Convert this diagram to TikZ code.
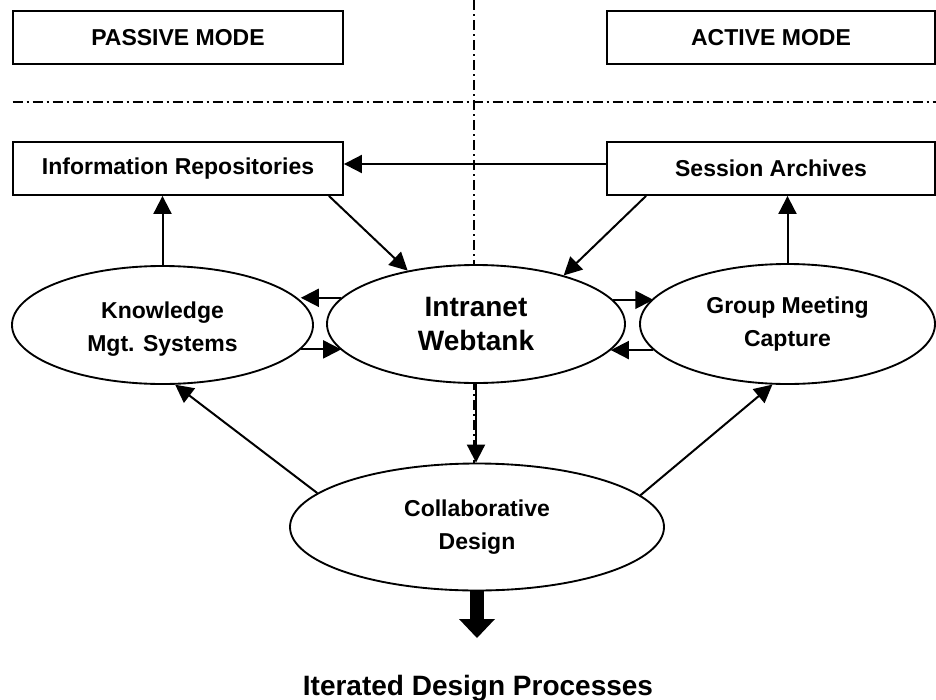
\documentclass[tikz,border=0pt]{standalone}
\usepackage{fontspec}
\setmainfont{Liberation Sans}
\usetikzlibrary{shapes.geometric,arrows.meta,calc}
\begin{document}
\begin{tikzpicture}[x=0.75pt,y=-0.75pt,
  txt/.style={font=\bfseries\fontsize{17.25}{24.75}\selectfont,align=center},
  box/.style={txt,draw,line width=1.4pt,inner sep=0pt,minimum height=39.75pt},
  ell/.style={txt,ellipse,draw,fill=white,line width=1.4pt,inner sep=0pt},
  dd/.style={line width=1.4pt,dash pattern=on 7.5pt off 3pt on 1.5pt off 3pt},
  arr/.style={line width=1.5pt,-{Triangle[length=13.5pt,width=13.5pt]}},
  bigarr/.style={line width=10.5pt,-{Triangle[length=14.25pt,width=27pt,line width=0pt]}}]
\useasboundingbox (0,0) rectangle (936,700);
% dash-dot separators
\coordinate (vtop) at (474,0);
\coordinate (vbot) at (474,464);
\coordinate (hl) at (12.7,102);
\coordinate (hr) at (936,102);
\draw[dd] (vtop) -- (vbot);
\draw[dd] (hl) -- (hr);
% boxes
\node[box,minimum width=247.5pt] (pm) at (178,37.5) {PASSIVE MODE};
\node[box,minimum width=246pt] (am) at (771,37.5) {ACTIVE MODE};
\node[box,minimum width=247.5pt] (ir) at (178,168.5) {Information Repositories};
\node[box,minimum width=246pt] (sa) at (771,168.5) {Session Archives};
% ellipses
\node[ell,minimum width=225.75pt,minimum height=88.5pt,
      label={[txt,yshift=-3pt]center:Knowledge\\Mgt. Systems}] (km) at (162.5,325) {};
\node[ell,minimum width=223.5pt,minimum height=88.5pt,font=\bfseries\fontsize{21}{25.5}\selectfont] (wt) at (476,324) {Intranet\\Webtank};
\node[ell,minimum width=221.25pt,minimum height=90pt] (gm) at (787.5,324) {Group Meeting\\Capture};
\node[ell,minimum width=280.5pt,minimum height=95.25pt] (cd) at (477,527) {Collaborative\\Design};
% connectors
\draw[arr] ($(sa.west)+(0,-4.5)$) -- ($(ir.east)+(0,-4.5)$);
\draw[arr] ($(ir.south east)+(-15,0)$) -- (wt.142.6);
\draw[arr] ($(sa.south west)+(40,0)$) -- (wt.29.7);
\draw[arr] (km.north) -- (km.north |- ir.south);
\draw[arr] (gm.north) -- (gm.north |- sa.south);
\draw[arr] (wt.169.5) -- (km.10.9 |- wt.169.5);
\draw[arr] (km.-10.4) -- (wt.191 |- km.-10.4);
\draw[arr] (wt.10.5) -- (gm.169.4 |- wt.10.5);
\draw[arr] (gm.191.06) -- (wt.-11 |- gm.191.06);
\draw[arr] (wt.south) -- (wt.south |- cd.north);
\draw[arr] (cd.168.3) -- (km.-78);
\draw[arr] (cd.11.2) -- (gm.256.2);
\coordinate (out) at (477,638);
\draw[bigarr] (cd.south) -- (out);
\node[font=\bfseries\fontsize{21}{25}\selectfont,anchor=base] (idp) at (478,695) {Iterated Design Processes};
\end{tikzpicture}
\end{document}
